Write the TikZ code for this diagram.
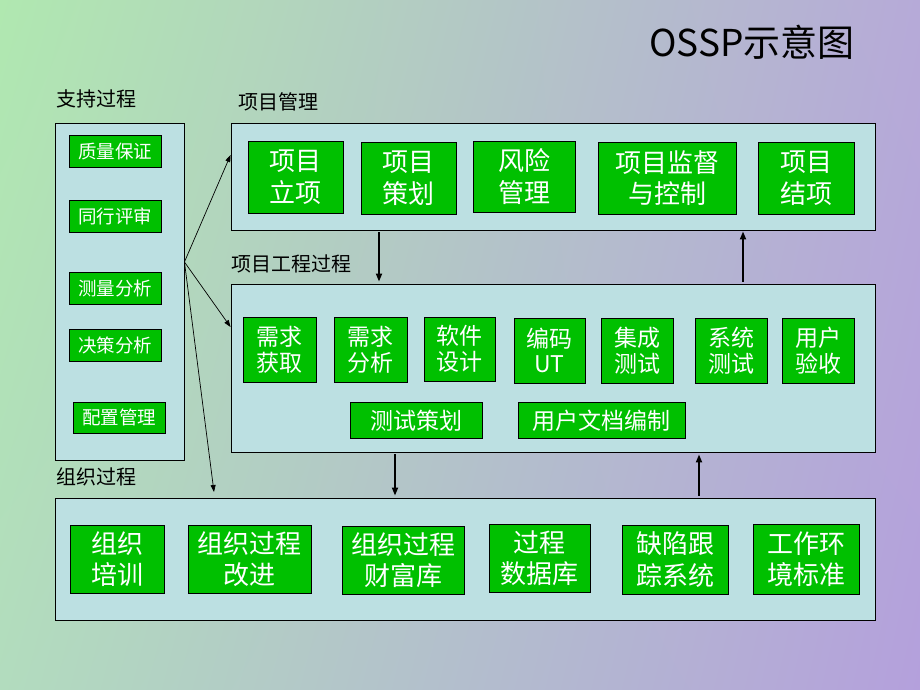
\documentclass[tikz,border=0pt]{standalone}
\usepackage{fontspec}
\setmainfont{Noto Sans CJK SC}
\usetikzlibrary{arrows.meta,calc,shadings}
\definecolor{bggreen}{HTML}{B0E8B0}
\definecolor{bggreen2}{HTML}{B2DCBE}
\definecolor{bgpurple}{HTML}{B4A0DC}
\definecolor{bgpurple2}{HTML}{B6AAD8}
\definecolor{panelc}{HTML}{BCE0E2}
\definecolor{boxg}{HTML}{00C000}
\begin{document}
\begin{tikzpicture}[x=1pt,y=-1pt,
  panel/.style={draw=black,line width=0.9pt,fill=panelc,inner sep=0pt},
  gbox/.style={draw=black,line width=0.9pt,fill=boxg,text=white,inner sep=0pt,align=center},
  lbl/.style={inner sep=0pt,text=black},
  thin/.style={-{Triangle[length=7pt,width=5pt]},line width=0.7pt},
  thick/.style={-{Triangle[length=8pt,width=6pt]},line width=1.8pt},
  fsA/.style={font=\fontsize{18.5}{22}\selectfont},
  fsB/.style={font=\fontsize{26}{31.5}\selectfont},
  fsC/.style={font=\fontsize{23}{25.5}\selectfont},
  fsD/.style={font=\fontsize{23}{26}\selectfont},
  fsL/.style={font=\fontsize{20}{23}\selectfont}
]
\useasboundingbox (0,0) rectangle (920,690);
\shade[upper left=bggreen,lower left=bggreen2,upper right=bgpurple2,lower right=bgpurple] (0,0) rectangle (920,690);

% title and labels
\node[lbl,font=\fontsize{37}{42}\selectfont] (title) at (752,42) {OSSP示意图};
\node[lbl,fsL] (lsp) at (96,99) {支持过程};
\node[lbl,fsL] (lpm) at (278,102) {项目管理};
\node[lbl,fsL] (lpe) at (291,264) {项目工程过程};
\node[lbl,fsL] (lorg) at (96,477) {组织过程};

% panels
\node[panel,minimum width=129pt,minimum height=337pt] (sp) at (119.5,291.5) {};
\node[panel,minimum width=644pt,minimum height=107pt] (pm) at (553,176.5) {};
\node[panel,minimum width=644pt,minimum height=168pt] (pe) at (553,368) {};
\node[panel,minimum width=820pt,minimum height=122pt] (org) at (465,559) {};

% support boxes
\node[gbox,fsA,minimum width=92pt,minimum height=32pt] (s1) at (115,151.5) {质量保证};
\node[gbox,fsA,minimum width=92pt,minimum height=32pt] (s2) at (115,216.5) {同行评审};
\node[gbox,fsA,minimum width=92pt,minimum height=32pt] (s3) at (115,288) {测量分析};
\node[gbox,fsA,minimum width=92pt,minimum height=32pt] (s4) at (115,345) {决策分析};
\node[gbox,fsA,minimum width=92pt,minimum height=31pt] (s5) at (119,417.5) {配置管理};

% project management boxes
\node[gbox,fsB,minimum width=95pt,minimum height=72pt] (p1) at (295.5,177) {项目\\立项};
\node[gbox,fsB,minimum width=95pt,minimum height=72pt] (p2) at (408.5,178) {项目\\策划};
\node[gbox,fsB,minimum width=102pt,minimum height=71pt] (p3) at (524,176.5) {风险\\管理};
\node[gbox,fsB,minimum width=138pt,minimum height=72pt] (p4) at (667,178) {项目监督\\与控制};
\node[gbox,fsB,minimum width=96pt,minimum height=72pt] (p5) at (806,178) {项目\\结项};

% engineering boxes
\node[gbox,fsC,minimum width=73pt,minimum height=65pt] (e1) at (279.5,350) {需求\\获取};
\node[gbox,fsC,minimum width=73pt,minimum height=65pt] (e2) at (370.5,350) {需求\\分析};
\node[gbox,fsC,minimum width=71pt,minimum height=64pt] (e3) at (459.5,349) {软件\\设计};
\node[gbox,fsC,minimum width=71pt,minimum height=65pt] (e4) at (549.5,350.5) {编码\\UT};
\node[gbox,fsC,minimum width=72pt,minimum height=65pt] (e5) at (637,350.5) {集成\\测试};
\node[gbox,fsC,minimum width=72pt,minimum height=65pt] (e6) at (731,350.5) {系统\\测试};
\node[gbox,fsC,minimum width=72pt,minimum height=65pt] (e7) at (818,350.5) {用户\\验收};
\node[gbox,fsD,minimum width=132pt,minimum height=36pt] (e8) at (416,420.5) {测试策划};
\node[gbox,fsD,minimum width=167pt,minimum height=36pt] (e9) at (601.5,420.5) {用户文档编制};

% organisation boxes
\node[gbox,fsB,minimum width=94pt,minimum height=68pt] (o1) at (117,559) {组织\\培训};
\node[gbox,fsB,minimum width=123pt,minimum height=68pt] (o2) at (249.5,559) {组织过程\\改进};
\node[gbox,fsB,minimum width=122pt,minimum height=68pt] (o3) at (403,560) {组织过程\\财富库};
\node[gbox,fsB,minimum width=101pt,minimum height=68pt] (o4) at (539.5,558) {过程\\数据库};
\node[gbox,fsB,minimum width=106pt,minimum height=69pt] (o5) at (675,559.5) {缺陷跟\\踪系统};
\node[gbox,fsB,minimum width=106pt,minimum height=70pt] (o6) at (806,559) {工作环\\境标准};

% vertical arrows
\coordinate (xa) at (379,0);
\coordinate (xb) at (743,0);
\coordinate (xc) at (395,0);
\coordinate (xd) at (699,0);
\draw[thick,shorten <=2pt,shorten >=2pt] (pm.south -| xa) -- (pe.north -| xa);
\draw[thick,shorten <=2pt,shorten >=1pt] (pe.north -| xb) -- (pm.south -| xb);
\draw[thick,shorten <=2pt,shorten >=2pt] (pe.south -| xc) -- (org.north -| xc);
\draw[thick,shorten <=2pt,shorten >=2pt] (org.north -| xd) -- (pe.south -| xd);

% fan of arrows from the support panel
\coordinate (fan) at (sp.east |- 0,262);
\coordinate (t1) at (pm.west |- 0,155);
\coordinate (t2) at (pe.west |- 0,327);
\coordinate (t3) at (214,492);
\draw[thin] (fan) -- (t1);
\draw[thin] (fan) -- (t2);
\draw[thin] (fan) -- (t3);
\end{tikzpicture}
\end{document}
